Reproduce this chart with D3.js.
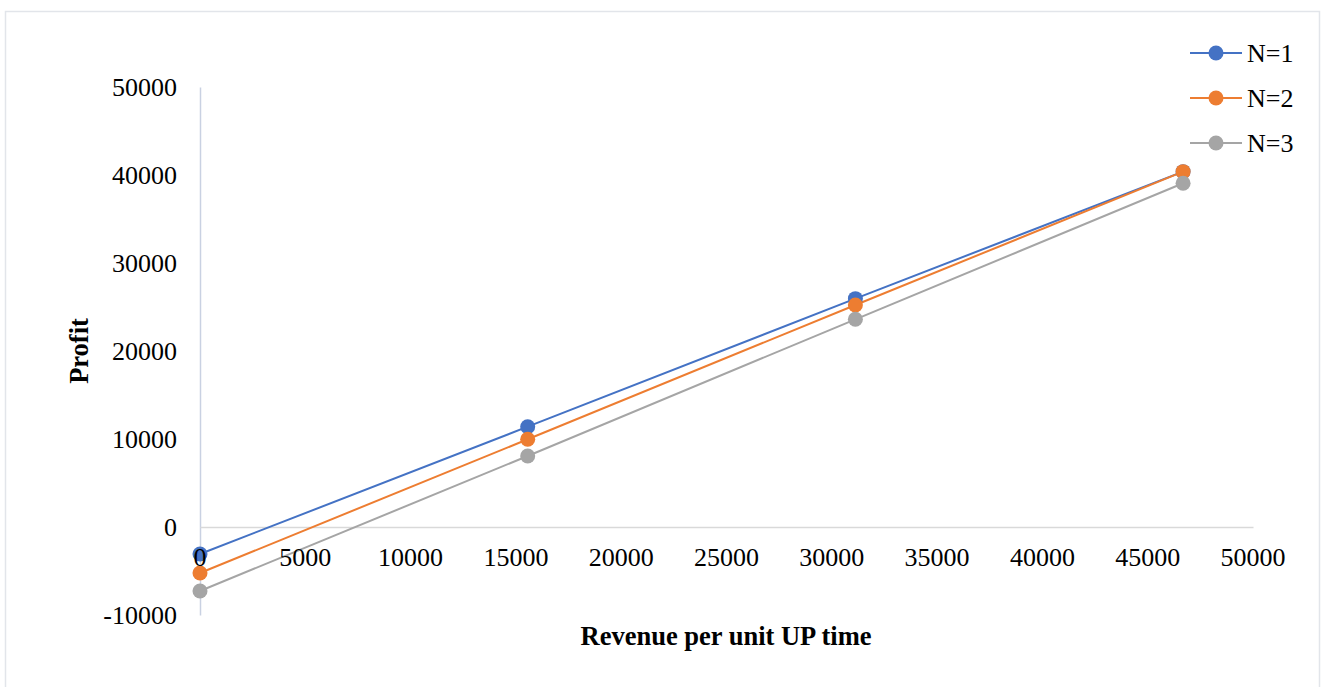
<!DOCTYPE html>
<html>
<head>
<meta charset="utf-8">
<script src="https://cdn.jsdelivr.net/npm/d3@7"></script>
<style>
  html, body { margin: 0; padding: 0; background: #fff; }
  svg { display: block; font-family: "Liberation Serif", "Times New Roman", serif; }
</style>
</head>
<body>
<svg id="chart" width="1322" height="687"></svg>
<script>
// Revenue per unit UP time (x) against profit (y) for N = 1, 2, 3
const revenue = [0, 15560, 31120, 46680];
const profitN1 = [-3070, 11400, 25950, 40380];
const profitN2 = [-5230, 9970, 25230, 40380];
const profitN3 = [-7270, 8070, 23600, 39060];
const seriesNames = ["N=1", "N=2", "N=3"];
const seriesColors = ["#4472C4", "#ED7D31", "#A5A5A5"];
const xTicks = [0, 5000, 10000, 15000, 20000, 25000, 30000, 35000, 40000, 45000, 50000];
const yTicks = [-10000, 0, 10000, 20000, 30000, 40000, 50000];

const fmt = d => String(d); // plain hyphen for negatives

const series = [profitN1, profitN2, profitN3].map((vals, i) => ({
  name: seriesNames[i],
  color: seriesColors[i],
  points: vals.map((v, j) => ({ x: revenue[j], y: v }))
}));

const svg = d3.select("#chart");

// outer chart frame
svg.append("rect")
  .attr("x", 5.5).attr("y", 11.5)
  .attr("width", 1314).attr("height", 700)
  .attr("fill", "none").attr("stroke", "#e2e5ea").attr("stroke-width", 1.5);

const x = d3.scaleLinear().domain([0, 50000]).range([200, 1253]);
const y = d3.scaleLinear().domain([-10000, 50000]).range([615, 87]);

// vertical axis at x = 0
const yAxis = svg.append("g")
  .attr("transform", `translate(${x(0)},0)`)
  .call(d3.axisLeft(y).tickValues(yTicks).tickSize(0).tickPadding(23).tickFormat(fmt));
yAxis.select(".domain").attr("stroke", "#c9d1e2").attr("stroke-width", 1.5);
yAxis.selectAll("text").attr("font-size", 26).attr("fill", "#000")
  .attr("font-family", "Liberation Serif");

// horizontal axis crossing at profit = 0
const xAxisG = svg.append("g")
  .attr("transform", `translate(0,${y(0)})`)
  .call(d3.axisBottom(x).tickValues(xTicks).tickSize(0).tickFormat(fmt));
xAxisG.select(".domain").attr("stroke", "#d9d9d9").attr("stroke-width", 1.5);
xAxisG.selectAll("text").remove();

// series lines and markers
const line = d3.line().x(d => x(d.x)).y(d => y(d.y));
series.forEach(s => {
  svg.append("path")
    .datum(s.points)
    .attr("d", line)
    .attr("fill", "none")
    .attr("stroke", s.color)
    .attr("stroke-width", 2);
});
series.forEach(s => {
  svg.append("g").selectAll("circle")
    .data(s.points)
    .join("circle")
    .attr("cx", d => x(d.x))
    .attr("cy", d => y(d.y))
    .attr("r", 7.5)
    .attr("fill", s.color);
});

// x tick labels sit below the axis and over the markers
svg.append("g").selectAll("text")
  .data(xTicks)
  .join("text")
  .attr("x", d => x(d))
  .attr("y", y(0) + 30)
  .attr("dy", "0.35em")
  .attr("text-anchor", "middle")
  .attr("font-size", 26)
  .attr("fill", "#000")
  .text(fmt);

// axis titles
svg.append("text")
  .attr("x", 726).attr("y", 636)
  .attr("dy", "0.35em")
  .attr("text-anchor", "middle")
  .attr("font-size", 26.5).attr("font-weight", "bold")
  .text("Revenue per unit UP time");

svg.append("text")
  .attr("transform", "translate(79,351) rotate(-90)")
  .attr("dy", "0.35em")
  .attr("text-anchor", "middle")
  .attr("font-size", 26.5).attr("font-weight", "bold")
  .text("Profit");

// legend
const legend = svg.append("g");
series.forEach((s, i) => {
  const ly = 53 + i * 45;
  legend.append("line")
    .attr("x1", 1190).attr("x2", 1242)
    .attr("y1", ly).attr("y2", ly)
    .attr("stroke", s.color).attr("stroke-width", 2);
  legend.append("circle")
    .attr("cx", 1216).attr("cy", ly).attr("r", 7.5)
    .attr("fill", s.color);
  legend.append("text")
    .attr("x", 1247).attr("y", ly)
    .attr("dy", "0.35em")
    .attr("font-size", 26)
    .text(s.name);
});
</script>
</body>
</html>
